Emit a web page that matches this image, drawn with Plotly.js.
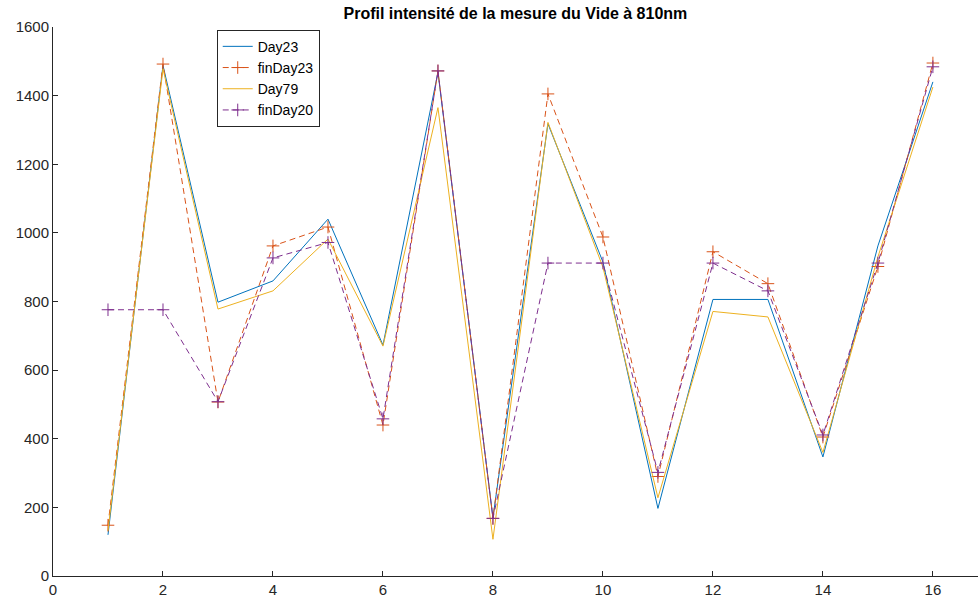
<!DOCTYPE html>
<html>
<head>
<meta charset="utf-8">
<script src="https://cdn.plot.ly/plotly-3.0.1.min.js"></script>
<style>html,body{margin:0;padding:0;background:#fff;}#chart{width:978px;height:601px;}</style>
</head>
<body>
<div id="chart"></div>
<script>
const xs = [1, 2, 3, 4, 5, 6, 7, 8, 9, 10, 11, 12, 13, 14, 15, 16];
const day23 = [120, 1488, 798, 860, 1040, 673, 1468, 170, 1318, 915, 197, 806, 806, 347, 962, 1440];
const finDay23 = [148, 1492, 507, 962, 1017, 440, 1472, 168, 1405, 988, 290, 945, 852, 405, 902, 1495];
const day79 = [132, 1478, 778, 831, 982, 670, 1365, 107, 1322, 900, 228, 771, 755, 360, 930, 1425];
const finDay20 = [776, 776, 508, 927, 972, 458, 1472, 168, 912, 912, 302, 912, 831, 411, 912, 1484];
const xTicks = [0, 2, 4, 6, 8, 10, 12, 14, 16];
const yTicks = [0, 200, 400, 600, 800, 1000, 1200, 1400, 1600];

const traces = [
  {x: xs, y: day23, name: 'Day23', mode: 'lines', line: {color: '#0072BD', width: 1}},
  {x: xs, y: finDay23, name: 'finDay23', mode: 'lines+markers',
   line: {color: '#D95319', width: 1, dash: '6px,4px'},
   marker: {symbol: 'cross-thin', size: 9, line: {color: '#D95319', width: 1}}},
  {x: xs, y: day79, name: 'Day79', mode: 'lines', line: {color: '#EDB120', width: 1}},
  {x: xs, y: finDay20, name: 'finDay20', mode: 'lines+markers',
   line: {color: '#7E2F8E', width: 1, dash: '6px,4px'},
   marker: {symbol: 'cross-thin', size: 9, line: {color: '#7E2F8E', width: 1}}}
];

const axisCommon = {
  showline: true, linecolor: '#262626', linewidth: 1,
  ticks: 'inside', ticklen: 5, tickcolor: '#262626', tickwidth: 1,
  showgrid: false, zeroline: false,
  tickfont: {family: 'Liberation Sans, Arial, sans-serif', size: 15, color: '#262626'}
};

const layout = {
  width: 978, height: 601,
  margin: {l: 53, r: 0, t: 27, b: 25},
  paper_bgcolor: '#fff', plot_bgcolor: '#fff',
  title: {text: '<b>Profil intensité de la mesure du Vide à 810nm</b>',
          font: {family: 'Liberation Sans, Arial, sans-serif', size: 16, color: '#000'},
          x: 0.527, xanchor: 'center', y: 0.977, yanchor: 'middle'},
  xaxis: Object.assign({}, axisCommon, {range: [0, 16.82], tickvals: xTicks, ticktext: xTicks.map(String)}),
  yaxis: Object.assign({}, axisCommon, {range: [0, 1600], tickvals: yTicks, ticktext: yTicks.map(String)}),
  showlegend: true,
  legend: {x: 0.177, y: 0.995, xanchor: 'left', yanchor: 'top',
           bordercolor: '#262626', borderwidth: 1, bgcolor: '#fff',
           font: {family: 'Liberation Sans, Arial, sans-serif', size: 14, color: '#000'},
           itemwidth: 30, tracegroupgap: 0}
};

Plotly.newPlot('chart', traces, layout, {displayModeBar: false, staticPlot: true});
</script>
</body>
</html>
